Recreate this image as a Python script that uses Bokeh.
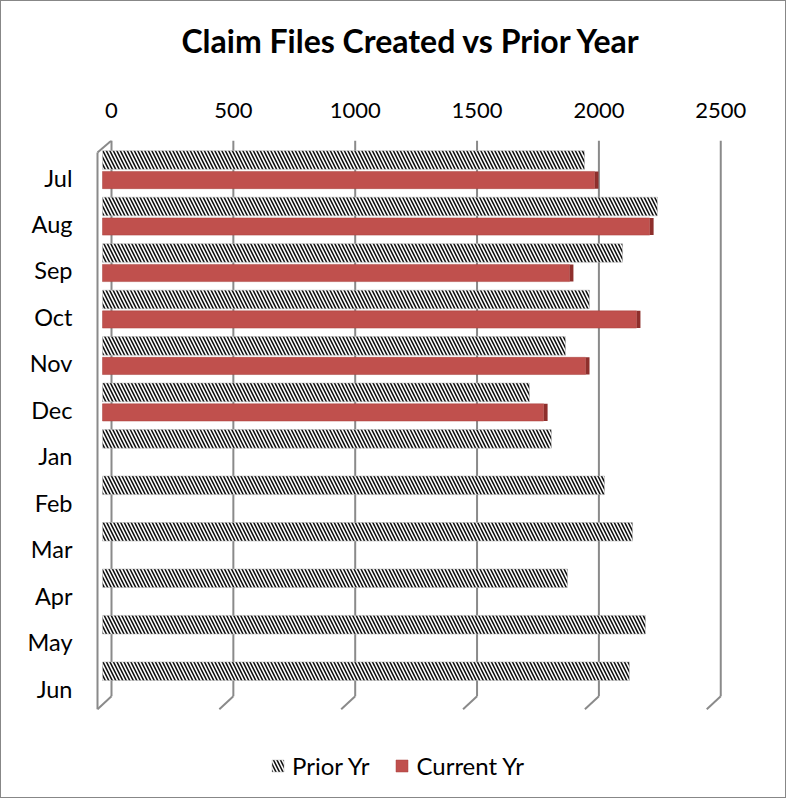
from bokeh.plotting import figure
from bokeh.models import Range1d, LinearAxis, FixedTicker, Legend, LegendItem, ColumnDataSource
from bokeh.embed import file_html
from bokeh.resources import INLINE

# ---- data ----
title_text = "Claim Files Created vs Prior Year"
months = ["Jul", "Aug", "Sep", "Oct", "Nov", "Dec", "Jan", "Feb", "Mar", "Apr", "May", "Jun"]
prior_yr = [1978, 2277, 2134, 1998, 1900, 1752, 1842, 2060, 2175, 1908, 2228, 2162]
current_months = ["Jul", "Aug", "Sep", "Oct", "Nov", "Dec"]
current_yr = [2019, 2245, 1916, 2191, 1982, 1810]
x_ticks = [0, 500, 1000, 1500, 2000, 2500]

# ---- layout helpers (pixel -> data units) ----
UPX = 1 / 0.2437          # data units per pixel horizontally
X0, X1 = -12 * UPX, 630 * UPX
BACK = 9 * UPX            # back wall shift
FOOT = 14 * UPX           # 3D foot shift
SIDE = 4 * UPX            # 3D side face of bars
Y_TOP, Y_FRAME_BOT = -0.797, 13.384
Y_BOT = 11.444
Y_BACK_BOT = 11.164
Y_FRONT_TOP = -0.539

row = {m: i for i, m in enumerate(months)}
prior_src = ColumnDataSource(dict(y=[row[m] - 0.377 for m in months], v=prior_yr))
cur_src = ColumnDataSource(dict(y=[row[m] + 0.054 for m in current_months], v=current_yr,
                                v2=[v + SIDE for v in current_yr]))

p = figure(width=786, height=798, output_backend="svg", toolbar_location=None,
           x_range=Range1d(X0, X1), y_range=Range1d(Y_FRAME_BOT, Y_TOP),
           x_axis_location=None, min_border_left=89, min_border_right=55,
           min_border_top=139, min_border_bottom=0)
p.styles = {"border": "1px solid #878787"}
p.extra_x_ranges = {"back": Range1d(X0 - BACK, X1 - BACK), "title": Range1d(0, 1)}
p.outline_line_color = None
p.xgrid.visible = False
p.ygrid.visible = False
p.background_fill_color = "white"
p.border_fill_color = "white"

# top axis on the back wall
ax = LinearAxis(x_range_name="back", ticker=FixedTicker(ticks=x_ticks))
ax.axis_line_color = None
ax.major_tick_line_color = None
ax.minor_tick_line_color = None
ax.major_label_text_font = "Lato"
ax.major_label_text_font_size = "22px"
ax.major_label_text_color = "black"
ax.major_label_standoff = 17
p.add_layout(ax, "above")

# chart title, carried by a tick-less axis above the value axis
tax = LinearAxis(x_range_name="title", ticker=FixedTicker(ticks=[]))
tax.axis_line_color = None
tax.major_tick_line_color = None
tax.minor_tick_line_color = None
tax.major_tick_out = 0
tax.major_label_standoff = 0
tax.axis_label = title_text
tax.axis_label_text_font = "Lato"
tax.axis_label_text_font_size = "32px"
tax.axis_label_text_font_style = "bold"
tax.axis_label_text_color = "black"
tax.axis_label_standoff = 40
p.add_layout(tax, "above")

# category axis
ya = p.yaxis[0]
ya.ticker = FixedTicker(ticks=list(range(len(months))))
ya.major_label_overrides = {i: m for i, m in enumerate(months)}
ya.axis_line_color = None
ya.major_tick_line_color = None
ya.minor_tick_line_color = None
ya.major_label_text_font = "Lato"
ya.major_label_text_font_size = "23.5px"
ya.major_label_text_color = "black"
ya.major_label_standoff = 12

# gridlines / walls (3D look)
gcol = "#8a8a8a"
p.segment(x0=x_ticks, x1=x_ticks, y0=[Y_TOP] * len(x_ticks), y1=[Y_BACK_BOT] * len(x_ticks),
          x_range_name="back", line_color=gcol, line_width=2)
p.segment(x0=x_ticks, x1=[t - FOOT for t in x_ticks], y0=[Y_BACK_BOT] * len(x_ticks),
          y1=[Y_BOT] * len(x_ticks), x_range_name="back", line_color=gcol, line_width=2)
p.segment(x0=[-FOOT, -FOOT], x1=[-FOOT, 0], y0=[Y_FRONT_TOP, Y_FRONT_TOP], y1=[Y_BOT, Y_TOP],
          x_range_name="back", line_color=gcol, line_width=2)

# bars
r_prior = p.hbar(y="y", right="v", left=0, height=0.40, source=prior_src,
                 fill_color="white", line_color="#b0b0b0", line_width=0.5,
                 hatch_pattern="\\", hatch_color="#111111", hatch_scale=7, hatch_weight=1.6)
p.hbar(y="y", left="v", right="v2", height=0.37, source=cur_src,
       fill_color="#8E2F2C", line_color=None)
r_cur = p.hbar(y="y", right="v", left=0, height=0.37, source=cur_src,
               fill_color="#C0504D", line_color="#A8403D", line_width=0.5)

legend = Legend(items=[LegendItem(label="Prior Yr", renderers=[r_prior]),
                       LegendItem(label="Current Yr", renderers=[r_cur])],
                orientation="horizontal", location=(180, 19))
legend.label_text_font = "Lato"
legend.label_text_font_size = "24px"
legend.label_text_color = "black"
legend.border_line_color = None
legend.background_fill_alpha = 0
legend.glyph_width = 15
legend.glyph_height = 15
legend.spacing = 25
legend.label_standoff = 7
legend.padding = 0
legend.margin = 0
p.add_layout(legend)

open("out.html", "w").write(file_html(p, INLINE))
